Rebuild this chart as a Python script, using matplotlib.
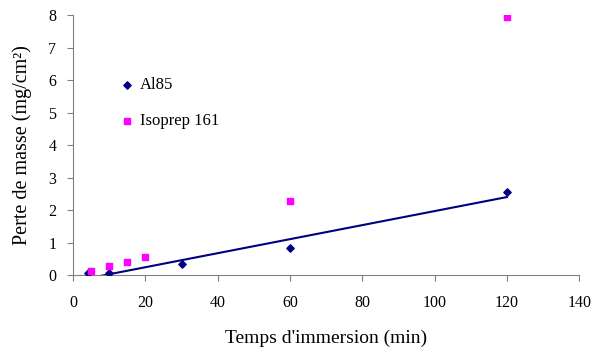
import numpy as np
import matplotlib
matplotlib.use("Agg")
import matplotlib.pyplot as plt

plt.rcParams.update({
    "font.family": "Liberation Serif",
    "font.size": 11,
})

# --- Data ---
al85_t = [4, 10, 30, 60, 120]
al85_loss = [0.08, 0.07, 0.35, 0.85, 2.55]

iso_t = [5, 10, 15, 20, 60, 120]
iso_loss = [0.13, 0.28, 0.40, 0.55, 2.27, 7.95]

x_ticks = [0, 20, 40, 60, 80, 100, 120, 140]
y_ticks = [0, 1, 2, 3, 4, 5, 6, 7, 8]

fig = plt.figure(figsize=(5.94, 3.51), dpi=100)
ax = fig.add_axes([0.123, 0.216, 0.852, 0.741])

ax.scatter(al85_t, al85_loss, marker='D', s=14, color='#000080', label='Al85', zorder=3)
ax.scatter(iso_t, iso_loss, marker='s', s=22, color='#FF00FF', label='Isoprep 161', zorder=3)

# linear trendline on Al85 (Excel style)
slope, icpt = np.polyfit(al85_t, al85_loss, 1)
tt = np.array([min(al85_t), max(al85_t)])
ax.plot(tt, slope * tt + icpt, color='#000080', lw=1.5, zorder=2)

ax.set_xlim(0, 140)
ax.set_ylim(0, 8)
ax.set_xticks(x_ticks)
ax.set_yticks(y_ticks)
ax.tick_params(direction='out', length=4, color='#808080', labelsize=11.5)
ax.tick_params(axis='x', pad=10)
ax.tick_params(axis='y', pad=8)

for s in ['top', 'right']:
    ax.spines[s].set_visible(False)
for s in ['left', 'bottom']:
    ax.spines[s].set_color('#808080')

ax.set_xlabel("Temps d'immersion (min)", fontsize=14, labelpad=14)
ax.set_ylabel("Perte de masse (mg/cm²)", fontsize=14.5, labelpad=12)

ax.legend(loc='upper left', bbox_to_anchor=(0.06, 0.82), frameon=False,
          handlelength=1.0, handletextpad=0.3, labelspacing=1.2, fontsize=12,
          scatterpoints=1)

plt.savefig("out.png", dpi=100)
